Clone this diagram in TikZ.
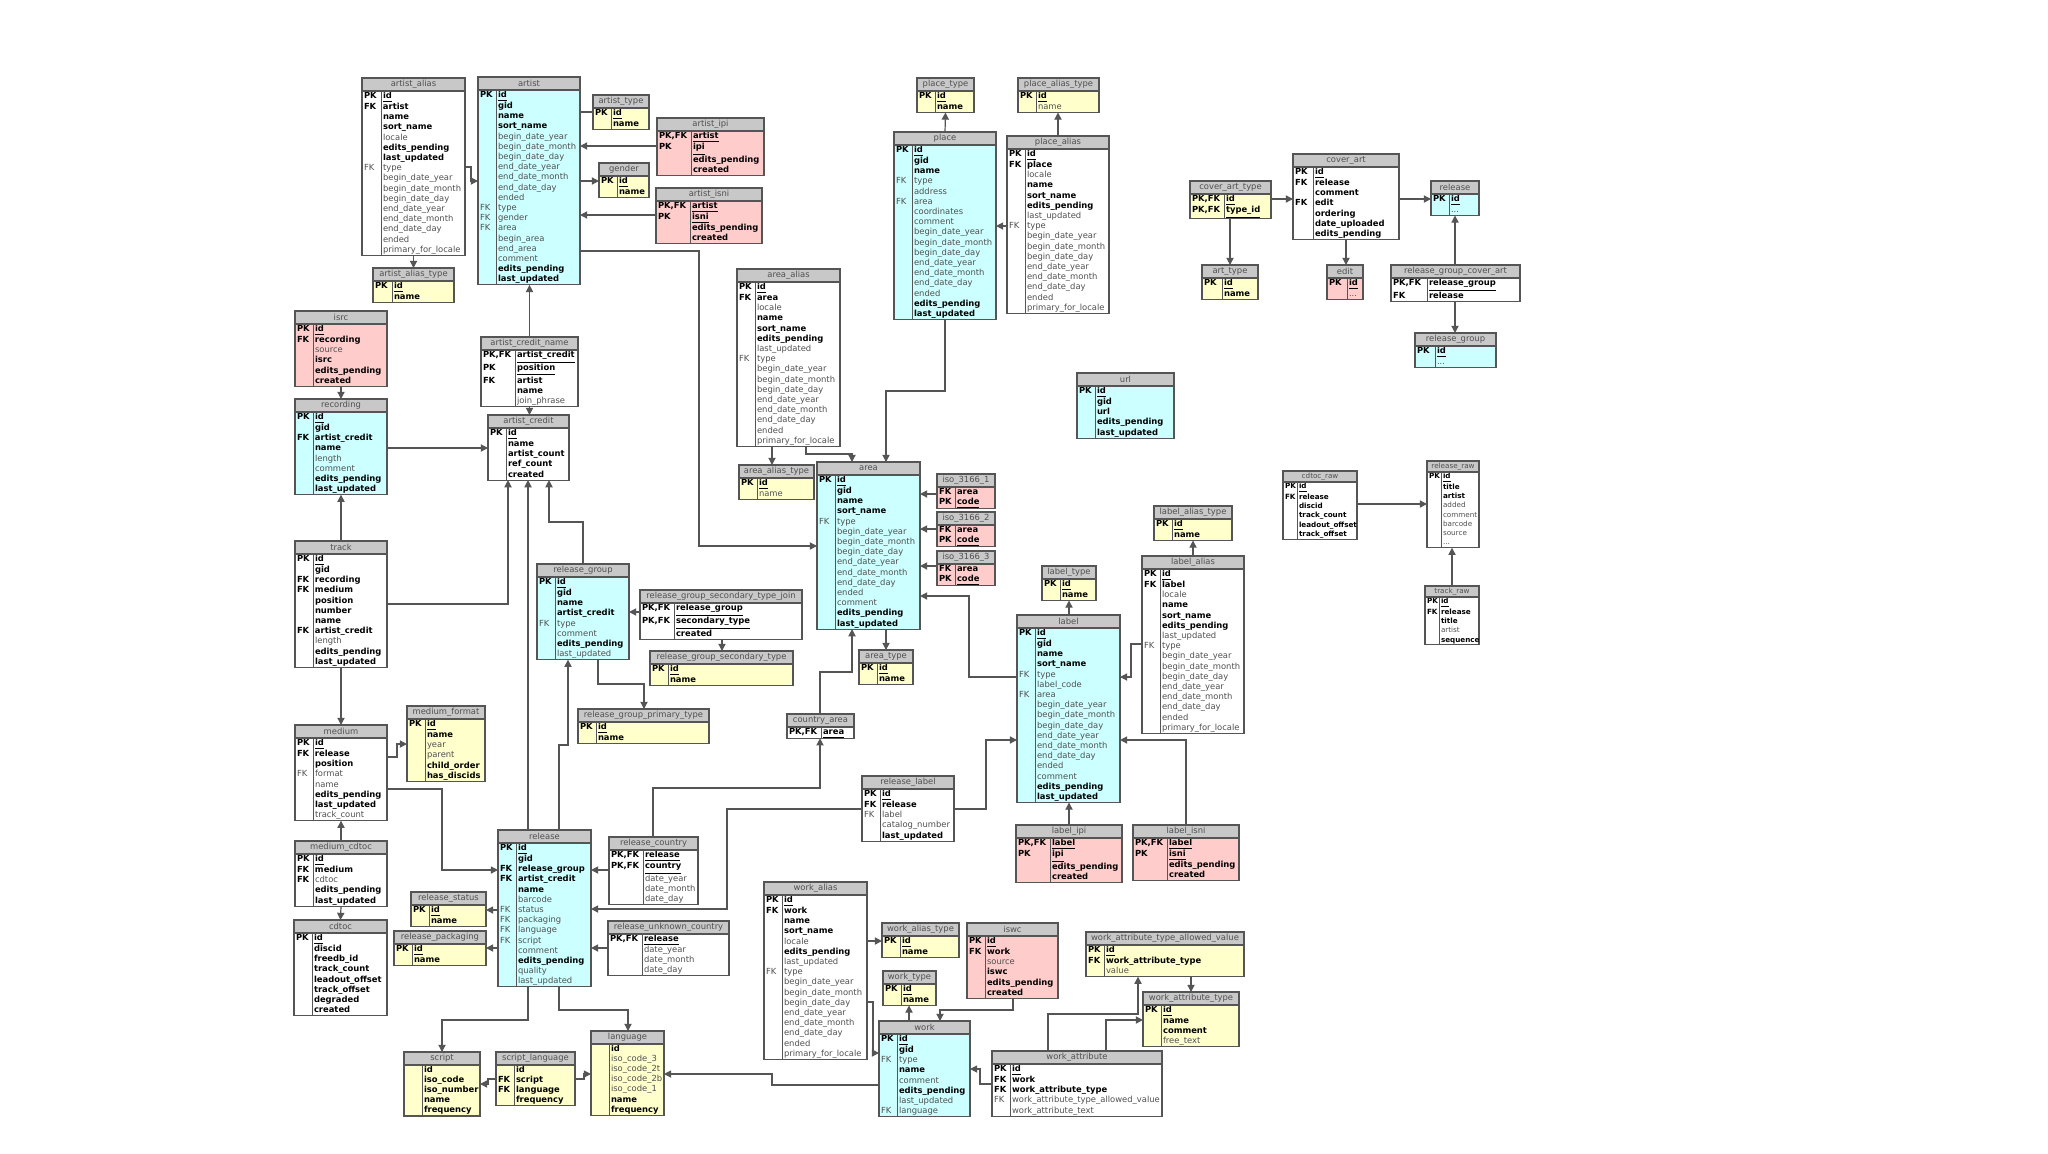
\documentclass[tikz,border=0pt]{standalone}
\usepackage{fontspec}
\setmainfont{DejaVu Sans}
\usetikzlibrary{arrows.meta}
\catcode`\_=12
\definecolor{cy}{HTML}{CCFFFF}
\definecolor{ye}{HTML}{FFFFCC}
\definecolor{pk}{HTML}{FFCCCC}
\definecolor{wh}{HTML}{FFFFFF}
\definecolor{hd}{HTML}{C8C8C8}
\definecolor{ln}{HTML}{555555}
\definecolor{tx}{HTML}{505050}
\newcommand\fu[1]{\underline{\textbf{#1}}}
\newcommand\fb[1]{\textbf{#1}}
\newcommand\fn[1]{\textcolor{tx}{#1}}
\newcommand\K[1]{\textbf{#1}}
\newcommand\kn[1]{\textcolor{tx}{#1}}
\newcommand\dts{\textcolor{tx}{...}}
\newcommand\tblfont{\fontsize{4.2}{5.1}\selectfont}
\newcommand\hdh{6.5}
\newcommand\tbl[8]{%
  \pgfmathsetmacro\tK{#5*0.5-1.5}%
  \pgfmathsetmacro\tF{(#4-#5)*0.5-1}%
  \pgfmathsetmacro\tW{#4*0.5}%
  \node[tbody, fill=#6, anchor=north west] (#1) at ([yshift=-\hdh pt]#2,#3) {\tblfont\begin{tabular}{@{\hspace{1pt}}p{\tK pt}@{\hspace{1.5pt}}p{\tF pt}@{}}#8\end{tabular}};
  \node[thead, minimum width=\tW pt, minimum height=\hdh pt, anchor=south west] (#1-h) at (#1.north west) {\tblfont #7};
  \draw[tborder] ([xshift=#5*0.5pt]#1.north west) -- ([xshift=#5*0.5pt]#1.south west);
}
\newcommand\dates{\fn{begin_date_year}\\ &\fn{begin_date_month}\\ &\fn{begin_date_day}\\ &\fn{end_date_year}\\ &\fn{end_date_month}\\ &\fn{end_date_day}\\ &\fn{ended}}
\begin{document}
\begin{tikzpicture}[x=0.5pt,y=-0.5pt,
  tbody/.style={draw=ln, line width=0.55pt, inner sep=0pt, outer sep=0pt},
  thead/.style={draw=ln, line width=0.55pt, fill=hd, inner sep=0pt, outer sep=0pt, text=tx},
  tborder/.style={draw=ln, line width=0.5pt},
  fk/.style={draw=ln, line width=0.6pt, -{Triangle[length=3.6pt,width=3.6pt]}},
  pl/.style={draw=ln, line width=0.6pt}]
\path[use as bounding box, fill=white] (0,0) rectangle (2048,1153);

% ---------- artist cluster
\tbl{aalias}{362}{78}{103}{19}{wh}{artist_alias}{\K{PK}&\fu{id}\\ \K{FK}&\fb{artist}\\ &\fb{name}\\ &\fb{sort_name}\\ &\fn{locale}\\ &\fb{edits_pending}\\ &\fb{last_updated}\\ \kn{FK}&\fn{type}\\ &\dates\\ &\fn{primary_for_locale}\\}
\tbl{artist}{478}{77}{102}{18}{cy}{artist}{\K{PK}&\fu{id}\\ &\fb{gid}\\ &\fb{name}\\ &\fb{sort_name}\\ &\fn{begin_date_year}\\ &\fn{begin_date_month}\\ &\fn{begin_date_day}\\ &\fn{end_date_year}\\ &\fn{end_date_month}\\ &\fn{end_date_day}\\ &\fn{ended}\\ \kn{FK}&\fn{type}\\ \kn{FK}&\fn{gender}\\ \kn{FK}&\fn{area}\\ &\fn{begin_area}\\ &\fn{end_area}\\ &\fn{comment}\\ &\fb{edits_pending}\\ &\fb{last_updated}\\}
\tbl{atype}{593}{95}{56}{18}{ye}{artist_type}{\K{PK}&\fu{id}\\ &\fb{name}\\}
\tbl{aipi}{657}{118}{107}{34}{pk}{artist_ipi}{\K{PK,FK}&\fu{artist}\\ \K{PK}&\fu{ipi}\\ &\fb{edits_pending}\\ &\fb{created}\\}
\tbl{gender}{599}{163}{50}{18}{ye}{gender}{\K{PK}&\fu{id}\\ &\fb{name}\\}
\tbl{aisni}{656}{188}{106}{34}{pk}{artist_isni}{\K{PK,FK}&\fu{artist}\\ \K{PK}&\fu{isni}\\ &\fb{edits_pending}\\ &\fb{created}\\}
\tbl{aaltype}{373}{268}{81}{19}{ye}{artist_alias_type}{\K{PK}&\fu{id}\\ &\fb{name}\\}
\tbl{isrc}{295}{311}{92}{18}{pk}{isrc}{\K{PK}&\fu{id}\\ \K{FK}&\fb{recording}\\ &\fn{source}\\ &\fb{isrc}\\ &\fb{edits_pending}\\ &\fb{created}\\}
\tbl{rec}{295}{399}{92}{18}{cy}{recording}{\K{PK}&\fu{id}\\ &\fb{gid}\\ \K{FK}&\fb{artist_credit}\\ &\fb{name}\\ &\fn{length}\\ &\fn{comment}\\ &\fb{edits_pending}\\ &\fb{last_updated}\\}
\tbl{track}{295}{541}{92}{18}{wh}{track}{\K{PK}&\fu{id}\\ &\fb{gid}\\ \K{FK}&\fb{recording}\\ \K{FK}&\fb{medium}\\ &\fb{position}\\ &\fb{number}\\ &\fb{name}\\ \K{FK}&\fb{artist_credit}\\ &\fn{length}\\ &\fb{edits_pending}\\ &\fb{last_updated}\\}
\tbl{acn}{481}{337}{97}{34}{wh}{artist_credit_name}{\K{PK,FK}&\fu{artist_credit}\\ \K{PK}&\fu{position}\\ \K{FK}&\fb{artist}\\ &\fb{name}\\ &\fn{join_phrase}\\}
\tbl{acred}{488}{415}{81}{18}{wh}{artist_credit}{\K{PK}&\fu{id}\\ &\fb{name}\\ &\fb{artist_count}\\ &\fb{ref_count}\\ &\fb{created}\\}
\tbl{rg}{537}{564}{92}{18}{cy}{release_group}{\K{PK}&\fu{id}\\ &\fb{gid}\\ &\fb{name}\\ &\fb{artist_credit}\\ \kn{FK}&\fn{type}\\ &\fn{comment}\\ &\fb{edits_pending}\\ &\fn{last_updated}\\}
\tbl{rgstj}{640}{590}{162}{34}{wh}{release_group_secondary_type_join}{\K{PK,FK}&\fu{release_group}\\ \K{PK,FK}&\fu{secondary_type}\\ &\fb{created}\\}
\tbl{rgst}{650}{651}{143}{18}{ye}{release_group_secondary_type}{\K{PK}&\fu{id}\\ &\fb{name}\\}
\tbl{rgpt}{578}{709}{131}{18}{ye}{release_group_primary_type}{\K{PK}&\fu{id}\\ &\fb{name}\\}
\tbl{medium}{295}{725}{92}{18}{wh}{medium}{\K{PK}&\fu{id}\\ \K{FK}&\fb{release}\\ &\fb{position}\\ \kn{FK}&\fn{format}\\ &\fn{name}\\ &\fb{edits_pending}\\ &\fb{last_updated}\\ &\fn{track_count}\\}
\tbl{mformat}{407}{706}{78}{18}{ye}{medium_format}{\K{PK}&\fu{id}\\ &\fb{name}\\ &\fn{year}\\ &\fn{parent}\\ &\fb{child_order}\\ &\fb{has_discids}\\}
\tbl{mcdtoc}{295}{841}{92}{18}{wh}{medium_cdtoc}{\K{PK}&\fu{id}\\ \K{FK}&\fb{medium}\\ \K{FK}&\fn{cdtoc}\\ &\fb{edits_pending}\\ &\fb{last_updated}\\}
\tbl{cdtoc}{294}{920}{93}{18}{wh}{cdtoc}{\K{PK}&\fu{id}\\ &\fb{discid}\\ &\fb{freedb_id}\\ &\fb{track_count}\\ &\fb{leadout_offset}\\ &\fb{track_offset}\\ &\fb{degraded}\\ &\fb{created}\\}
\tbl{rel}{498}{830}{93}{18}{cy}{release}{\K{PK}&\fu{id}\\ &\fb{gid}\\ \K{FK}&\fb{release_group}\\ \K{FK}&\fb{artist_credit}\\ &\fb{name}\\ &\fn{barcode}\\ \kn{FK}&\fn{status}\\ \kn{FK}&\fn{packaging}\\ \kn{FK}&\fn{language}\\ \kn{FK}&\fn{script}\\ &\fn{comment}\\ &\fb{edits_pending}\\ &\fn{quality}\\ &\fn{last_updated}\\}
\tbl{rcountry}{609}{837}{89}{34}{wh}{release_country}{\K{PK,FK}&\fu{release}\\ \K{PK,FK}&\fu{country}\\ &\fn{date_year}\\ &\fn{date_month}\\ &\fn{date_day}\\}
\tbl{rstatus}{411}{892}{75}{18}{ye}{release_status}{\K{PK}&\fu{id}\\ &\fb{name}\\}
\tbl{rpack}{394}{931}{92}{18}{ye}{release_packaging}{\K{PK}&\fu{id}\\ &\fb{name}\\}
\tbl{ruc}{608}{921}{121}{34}{wh}{release_unknown_country}{\K{PK,FK}&\fu{release}\\ &\fn{date_year}\\ &\fn{date_month}\\ &\fn{date_day}\\}
\tbl{script}{404}{1052}{76}{18}{ye}{script}{&\fb{id}\\ &\fb{iso_code}\\ &\fb{iso_number}\\ &\fb{name}\\ &\fb{frequency}\\}
\tbl{slang}{496}{1052}{79}{18}{ye}{script_language}{&\fb{id}\\ \K{FK}&\fb{script}\\ \K{FK}&\fb{language}\\ &\fb{frequency}\\}
\tbl{lang}{591}{1031}{73}{18}{ye}{language}{&\fb{id}\\ &\fn{iso_code_3}\\ &\fn{iso_code_2t}\\ &\fn{iso_code_2b}\\ &\fn{iso_code_1}\\ &\fb{name}\\ &\fb{frequency}\\}
% ---------- area / place
\tbl{aalias2}{737}{269}{103}{18}{wh}{area_alias}{\K{PK}&\fu{id}\\ \K{FK}&\fb{area}\\ &\fn{locale}\\ &\fb{name}\\ &\fb{sort_name}\\ &\fb{edits_pending}\\ &\fn{last_updated}\\ \kn{FK}&\fn{type}\\ &\dates\\ &\fn{primary_for_locale}\\}
\tbl{aatype}{739}{465}{75}{18}{ye}{area_alias_type}{\K{PK}&\fu{id}\\ &\fn{name}\\}
\tbl{ptype}{917}{78}{57}{18}{ye}{place_type}{\K{PK}&\fu{id}\\ &\fb{name}\\}
\tbl{patype}{1018}{78}{81}{18}{ye}{place_alias_type}{\K{PK}&\fu{id}\\ &\fn{name}\\}
\tbl{place}{894}{132}{102}{18}{cy}{place}{\K{PK}&\fu{id}\\ &\fb{gid}\\ &\fb{name}\\ \kn{FK}&\fn{type}\\ &\fn{address}\\ \kn{FK}&\fn{area}\\ &\fn{coordinates}\\ &\fn{comment}\\ &\dates\\ &\fb{edits_pending}\\ &\fb{last_updated}\\}
\tbl{palias}{1007}{136}{102}{18}{wh}{place_alias}{\K{PK}&\fu{id}\\ \K{FK}&\fb{place}\\ &\fn{locale}\\ &\fb{name}\\ &\fb{sort_name}\\ &\fb{edits_pending}\\ &\fn{last_updated}\\ \kn{FK}&\fn{type}\\ &\dates\\ &\fn{primary_for_locale}\\}
\tbl{url}{1077}{373}{97}{18}{cy}{url}{\K{PK}&\fu{id}\\ &\fb{gid}\\ &\fb{url}\\ &\fb{edits_pending}\\ &\fb{last_updated}\\}
\tbl{area}{817}{462}{103}{18}{cy}{area}{\K{PK}&\fu{id}\\ &\fb{gid}\\ &\fb{name}\\ &\fb{sort_name}\\ \kn{FK}&\fn{type}\\ &\dates\\ &\fn{comment}\\ &\fb{edits_pending}\\ &\fb{last_updated}\\}
\tbl{iso1}{937}{474}{58}{18}{pk}{iso_3166_1}{\K{FK}&\fb{area}\\ \K{PK}&\fu{code}\\}
\tbl{iso2}{937}{512}{58}{18}{pk}{iso_3166_2}{\K{FK}&\fb{area}\\ \K{PK}&\fu{code}\\}
\tbl{iso3}{937}{551}{58}{18}{pk}{iso_3166_3}{\K{FK}&\fb{area}\\ \K{PK}&\fu{code}\\}
\tbl{atype2}{859}{650}{54}{18}{ye}{area_type}{\K{PK}&\fu{id}\\ &\fb{name}\\}
\tbl{carea}{787}{714}{67}{34}{wh}{country_area}{\K{PK,FK}&\fu{area}\\}
\tbl{rlabel}{862}{776}{92}{18}{wh}{release_label}{\K{PK}&\fu{id}\\ \K{FK}&\fb{release}\\ \kn{FK}&\fn{label}\\ &\fn{catalog_number}\\ &\fb{last_updated}\\}
% ---------- label
\tbl{latype}{1154}{506}{78}{18}{ye}{label_alias_type}{\K{PK}&\fu{id}\\ &\fb{name}\\}
\tbl{lalias}{1142}{556}{102}{18}{wh}{label_alias}{\K{PK}&\fu{id}\\ \K{FK}&\fb{label}\\ &\fn{locale}\\ &\fb{name}\\ &\fb{sort_name}\\ &\fb{edits_pending}\\ &\fn{last_updated}\\ \kn{FK}&\fn{type}\\ &\dates\\ &\fn{primary_for_locale}\\}
\tbl{ltype}{1042}{566}{54}{18}{ye}{label_type}{\K{PK}&\fu{id}\\ &\fb{name}\\}
\tbl{label}{1017}{615}{103}{18}{cy}{label}{\K{PK}&\fu{id}\\ &\fb{gid}\\ &\fb{name}\\ &\fb{sort_name}\\ \kn{FK}&\fn{type}\\ &\fn{label_code}\\ \kn{FK}&\fn{area}\\ &\dates\\ &\fn{comment}\\ &\fb{edits_pending}\\ &\fb{last_updated}\\}
\tbl{lipi}{1016}{825}{106}{34}{pk}{label_ipi}{\K{PK,FK}&\fu{label}\\ \K{PK}&\fu{ipi}\\ &\fb{edits_pending}\\ &\fb{created}\\}
\tbl{lisni}{1133}{825}{106}{34}{pk}{label_isni}{\K{PK,FK}&\fu{label}\\ \K{PK}&\fu{isni}\\ &\fb{edits_pending}\\ &\fb{created}\\}
% ---------- cover art
\tbl{catype}{1190}{181}{81}{34}{ye}{cover_art_type}{\K{PK,FK}&\fu{id}\\ \K{PK,FK}&\fu{type_id}\\}
\tbl{coverart}{1293}{154}{106}{20}{wh}{cover_art}{\K{PK}&\fu{id}\\ \K{FK}&\fb{release}\\ &\fb{comment}\\ \K{FK}&\fb{edit}\\ &\fb{ordering}\\ &\fb{date_uploaded}\\ &\fb{edits_pending}\\}
\tbl{relsm}{1431}{181}{48}{18}{cy}{release}{\K{PK}&\fu{id}\\ &\dts\\}
\tbl{arttype}{1202}{265}{56}{20}{ye}{art_type}{\K{PK}&\fu{id}\\ &\fb{name}\\}
\tbl{edit}{1327}{265}{36}{20}{pk}{edit}{\K{PK}&\fu{id}\\ &\dts\\}
\tbl{rgca}{1391}{265}{129}{36}{wh}{release_group_cover_art}{\K{PK,FK}&\fu{release_group}\\ \K{FK}&\fb{release}\\}
\tbl{rgsm}{1415}{333}{81}{20}{cy}{release_group}{\K{PK}&\fu{id}\\ &\dts\\}
% ---------- work
\tbl{walias}{764}{882}{103}{18}{wh}{work_alias}{\K{PK}&\fu{id}\\ \K{FK}&\fb{work}\\ &\fb{name}\\ &\fb{sort_name}\\ &\fn{locale}\\ &\fb{edits_pending}\\ &\fn{last_updated}\\ \kn{FK}&\fn{type}\\ &\dates\\ &\fn{primary_for_locale}\\}
\tbl{watype}{882}{923}{77}{18}{ye}{work_alias_type}{\K{PK}&\fu{id}\\ &\fb{name}\\}
\tbl{wtype}{883}{971}{53}{18}{ye}{work_type}{\K{PK}&\fu{id}\\ &\fb{name}\\}
\tbl{iswc}{967}{923}{91}{18}{pk}{iswc}{\K{PK}&\fu{id}\\ \K{FK}&\fb{work}\\ &\fn{source}\\ &\fb{iswc}\\ &\fb{edits_pending}\\ &\fb{created}\\}
\tbl{work}{879}{1021}{91}{18}{cy}{work}{\K{PK}&\fu{id}\\ &\fb{gid}\\ \kn{FK}&\fn{type}\\ &\fb{name}\\ &\fn{comment}\\ &\fb{edits_pending}\\ &\fn{last_updated}\\ \kn{FK}&\fn{language}\\}
\tbl{wattr}{992}{1051}{170}{18}{wh}{work_attribute}{\K{PK}&\fu{id}\\ \K{FK}&\fb{work}\\ \K{FK}&\fb{work_attribute_type}\\ \kn{FK}&\fn{work_attribute_type_allowed_value}\\ &\fn{work_attribute_text}\\}
\tbl{watav}{1086}{932}{158}{18}{ye}{work_attribute_type_allowed_value}{\K{PK}&\fu{id}\\ \K{FK}&\fb{work_attribute_type}\\ &\fn{value}\\}
\tbl{wat}{1143}{992}{96}{18}{ye}{work_attribute_type}{\K{PK}&\fu{id}\\ &\fb{name}\\ &\fb{comment}\\ &\fn{free_text}\\}
% ---------- raw (smaller)
\renewcommand\tblfont{\fontsize{3.6}{4.65}\selectfont}
\renewcommand\hdh{5.5}
\tbl{cdraw}{1283}{471}{74}{14}{wh}{cdtoc_raw}{\K{PK}&\fu{id}\\ \K{FK}&\fb{release}\\ &\fb{discid}\\ &\fb{track_count}\\ &\fb{leadout_offset}\\ &\fb{track_offset}\\}
\tbl{relraw}{1427}{461}{52}{14}{wh}{release_raw}{\K{PK}&\fu{id}\\ &\fb{title}\\ &\fb{artist}\\ &\fn{added}\\ &\fn{comment}\\ &\fn{barcode}\\ &\fn{source}\\ &\dts\\}
\tbl{trraw}{1425}{586}{54}{14}{wh}{track_raw}{\K{PK}&\fu{id}\\ \K{FK}&\fb{release}\\ &\fb{title}\\ &\fn{artist}\\ &\fb{sequence}\\}

% ---------- connectors
\draw[fk] (aalias.east|-0,167) -| (471,181) -- (artist.west|-0,181);
\draw[fk] (aalias.south-|aaltype-h.north) -- (aaltype-h.north);
\draw[pl] (artist.east|-0,112) -- (atype.west|-0,112);
\draw[fk] (aipi.west|-0,146) -- (artist.east|-0,146);
\draw[fk] (artist.east|-0,181) -- (gender.west|-0,181);
\draw[fk] (aisni.west|-0,215) -- (artist.east|-0,215);
\draw[fk] (artist.east|-0,251) -| (699,546) -- (area.west|-0,546);
\draw[fk] (acn-h.north) -- (artist.south-|acn-h.north);
\draw[fk] (acn.south) -- (acred-h.north-|acn.south);
\draw[fk] (isrc.south) -- (rec-h.north);
\draw[fk] (rec.east|-0,448) -- (acred.west|-0,448);
\draw[fk] (track-h.north) -- (rec.south);
\draw[fk] (track.east|-0,604) -| (acred.south-|508,0);
\draw[fk] (rel-h.north-|528,0) -- (acred.south-|528,0);
\draw[fk] (rg-h.north-|583,0) |- (549,522) -- (acred.south-|549,0);
\draw[fk] (rgstj.west|-0,612) -- (rg.east|-0,612);
\draw[fk] (rgstj.south-|722,0) -- (rgst-h.north-|722,0);
\draw[fk] (rg.south-|598,0) |- (644,684) -- (rgpt-h.north-|644,0);
\draw[fk] (rel-h.north-|559,0) |- (568,745) -- (rg.south-|568,0);
\draw[fk] (track.south) -- (medium-h.north);
\draw[fk] (medium.east|-0,757) -| (397,744) -- (mformat.west|-0,744);
\draw[fk] (medium.east|-0,789) -| (442,870) -- (rel.west|-0,870);
\draw[fk] (mcdtoc-h.north) -- (medium.south);
\draw[fk] (mcdtoc.south) -- (cdtoc-h.north);
\draw[fk] (rel.west|-0,910) -- (rstatus.east|-0,910);
\draw[fk] (rel.west|-0,948) -- (rpack.east|-0,948);
\draw[fk] (rcountry.west|-0,870) -- (rel.east|-0,870);
\draw[fk] (rlabel.west|-0,809) -| (727,909) -- (rel.east|-0,909);
\draw[fk] (rcountry-h.north-|653,0) |- (820,788) -- (carea.south-|820,0);
\draw[fk] (carea-h.north-|820,0) |- (852,672) -- (area.south-|852,0);
\draw[fk] (area.south-|886,0) -- (atype2-h.north-|886,0);
\draw[fk] (ruc.west|-0,948) -- (rel.east|-0,948);
\draw[fk] (rel.south-|528,0) |- (442,1020) -- (script-h.north-|442,0);
\draw[fk] (rel.south-|559,0) |- (628,1010) -- (lang-h.north-|628,0);
\draw[fk] (slang.west|-0,1079) -| (488,1084) -- (script.east|-0,1084);
\draw[fk] (slang.east|-0,1079) -| (584,1074) -- (lang.west|-0,1074);
\draw[fk] (work.west|-0,1085) -| (772,1074) -- (lang.east|-0,1074);
\draw[fk] (place-h.north) -- (ptype.south);
\draw[fk] (palias-h.north-|1058,0) -- (patype.south-|1058,0);
\draw[fk] (palias.west|-0,226) -- (place.east|-0,226);
\draw[fk] (place.south) |- (886,391) -- (area-h.north-|886,0);
\draw[fk] (aalias2.south-|772,0) -- (aatype-h.north-|772,0);
\draw[fk] (aalias2.south-|806,0) |- (852,454) -- (area-h.north-|852,0);
\draw[fk] (iso1.west|-0,494) -- (area.east|-0,494);
\draw[fk] (iso2.west|-0,529) -- (area.east|-0,529);
\draw[fk] (iso3.west|-0,566) -- (area.east|-0,566);
\draw[fk] (label.west|-0,677) -| (969,596) -- (area.east|-0,596);
\draw[fk] (rlabel.east|-0,809) -| (986,740) -- (label.west|-0,740);
\draw[fk] (label-h.north-|1069,0) -- (ltype.south-|1069,0);
\draw[fk] (lalias-h.north-|1193,0) -- (latype.south-|1193,0);
\draw[fk] (lalias.west|-0,644) -| (1131,677) -- (label.east|-0,677);
\draw[fk] (lipi-h.north-|1069,0) -- (label.south-|1069,0);
\draw[fk] (lisni-h.north-|1186,0) |- (label.east|-0,740);
\draw[fk] (catype.east|-0,199) -- (coverart.west|-0,199);
\draw[fk] (catype.south-|1230,0) -- (arttype-h.north-|1230,0);
\draw[fk] (coverart.south-|1346,0) -- (edit-h.north-|1346,0);
\draw[fk] (coverart.east|-0,199) -- (relsm.west|-0,199);
\draw[fk] (rgca-h.north-|1455,0) -- (relsm.south-|1455,0);
\draw[fk] (rgca.south-|1455,0) -- (rgsm-h.north-|1455,0);
\draw[fk] (cdraw.east|-0,504) -- (relraw.west|-0,504);
\draw[fk] (trraw-h.north-|1452,0) -- (relraw.south-|1452,0);
\draw[fk] (walias.east|-0,941) -- (watype.west|-0,941);
\draw[fk] (walias.east|-0,1002) -| (873,1053) -- (work.west|-0,1053);
\draw[fk] (work-h.north-|909,0) -- (wtype.south-|909,0);
\draw[fk] (iswc.south-|1013,0) |- (940,1010) -- (work-h.north-|940,0);
\draw[fk] (wattr.west|-0,1084) -| (980,1069) -- (work.east|-0,1069);
\draw[fk] (wattr-h.north-|1048,0) |- (1138,1014) -- (watav.south-|1138,0);
\draw[fk] (wattr-h.north-|1106,0) |- (wat.west|-0,1020);
\draw[fk] (watav.south-|1191,0) -- (wat-h.north-|1191,0);
\end{tikzpicture}
\end{document}
